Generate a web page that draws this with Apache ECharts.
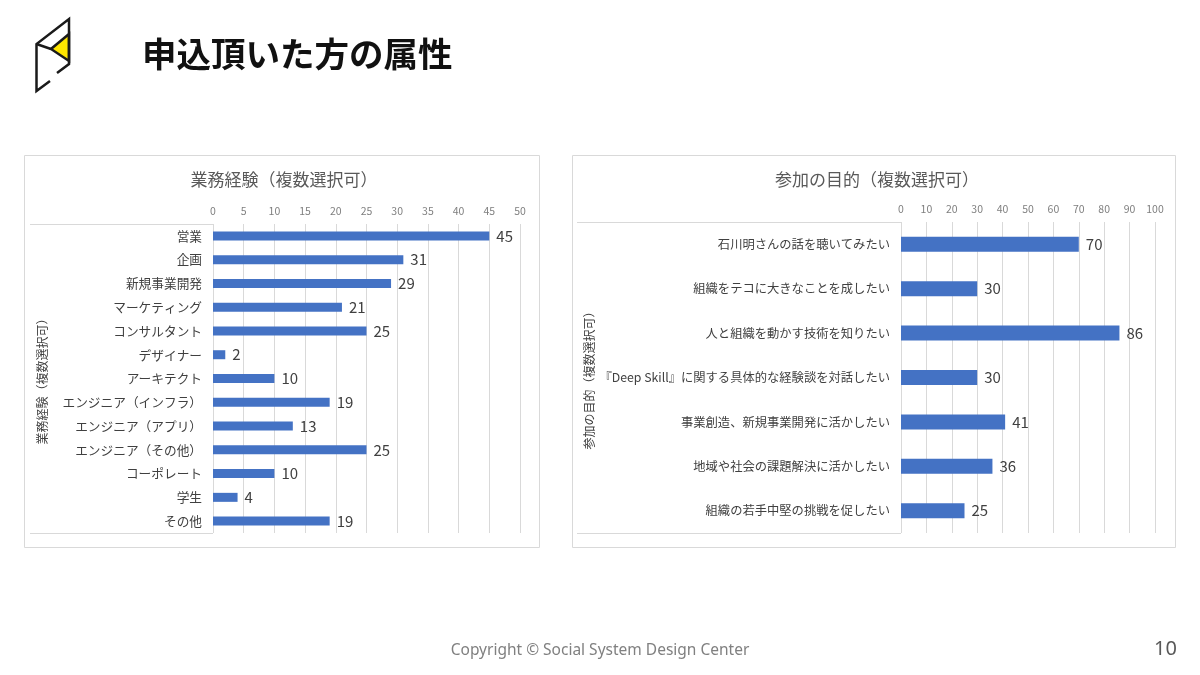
<!DOCTYPE html>
<html>
<head>
<meta charset="utf-8">
<script src="https://cdn.jsdelivr.net/npm/echarts@6/dist/echarts.min.js"></script>
<style>
html,body{margin:0;padding:0;background:#fff;}
#c{width:1200px;height:675px;}
</style>
</head>
<body>
<div id="c"></div>
<script>
// ---- data ----
const pageTitle = '申込頂いた方の属性';
const leftTitle = '業務経験（複数選択可）';
const leftAxisName = '業務経験（複数選択可）';
const leftCategories = ['営業','企画','新規事業開発','マーケティング','コンサルタント','デザイナー','アーキテクト','エンジニア（インフラ）','エンジニア（アプリ）','エンジニア（その他）','コーポレート','学生','その他'];
const leftValues = [45,31,29,21,25,2,10,19,13,25,10,4,19];
const leftMax = 50, leftInterval = 5;

const rightTitle = '参加の目的（複数選択可）';
const rightAxisName = '参加の目的（複数選択可）';
const rightCategories = ['石川明さんの話を聴いてみたい','組織をテコに大きなことを成したい','人と組織を動かす技術を知りたい','『Deep Skill』に関する具体的な経験談を対話したい','事業創造、新規事業開発に活かしたい','地域や社会の課題解決に活かしたい','組織の若手中堅の挑戦を促したい'];
const rightValues = [70,30,86,30,41,36,25];
const rightMax = 100, rightInterval = 10;

const footerText = 'Copyright © Social System Design Center';
const pageNumber = '10';

// ---- chart ----
const FONT = '"Noto Sans CJK JP", "Noto Sans", sans-serif';
const BLUE = '#4472C4';
const chart = echarts.init(document.getElementById('c'));

function xAxisCfg(gridIndex, max, interval){
  return {
    type:'value', gridIndex, position:'top', min:0, max, interval,
    axisLine:{show:false}, axisTick:{show:false},
    axisLabel:{color:'#7f7f7f', fontSize:10.5, margin:8, fontFamily:FONT},
    splitLine:{show:true, lineStyle:{color:'#d9d9d9', width:1}}
  };
}
function yAxisCfg(gridIndex, cats, name, gap, fs){
  return {
    type:'category', gridIndex, data:cats, inverse:true,
    axisLine:{show:false}, axisTick:{show:false},
    axisLabel:{color:'#404040', fontSize:fs, margin:11, fontFamily:FONT},
    name, nameLocation:'middle', nameRotate:90, nameGap:gap,
    nameTextStyle:{color:'#404040', fontSize:12, fontFamily:FONT}
  };
}
function barCfg(idx, values, width){
  return {
    type:'bar', xAxisIndex:idx, yAxisIndex:idx, data:values, barWidth:width,
    itemStyle:{color:BLUE}, silent:true, animation:false,
    label:{show:true, position:'right', distance:7, color:'#404040', fontSize:15, fontFamily:FONT}
  };
}

const option = {
  animation:false,
  textStyle:{fontFamily:FONT},
  title:[
    {text:leftTitle, left:279, top:166, textAlign:'center',
     textStyle:{fontSize:17, fontWeight:'normal', color:'#595959', fontFamily:FONT}},
    {text:rightTitle, left:872, top:166, textAlign:'center',
     textStyle:{fontSize:17, fontWeight:'normal', color:'#595959', fontFamily:FONT}}
  ],
  grid:[
    {left:213, top:224, width:307, height:309, containLabel:false},
    {left:901, top:222, width:254, height:311, containLabel:false}
  ],
  xAxis:[xAxisCfg(0,leftMax,leftInterval), xAxisCfg(1,rightMax,rightInterval)],
  yAxis:[yAxisCfg(0,leftCategories,leftAxisName,165,12.7), yAxisCfg(1,rightCategories,rightAxisName,305,12.3)],
  series:[barCfg(0,leftValues,9), barCfg(1,rightValues,15)],
  graphic:[
    // panel borders
    {type:'rect', shape:{x:24.5,y:155.5,width:515,height:392}, style:{fill:null, stroke:'#d9d9d9', lineWidth:1}, z:-1},
    {type:'rect', shape:{x:572.5,y:155.5,width:603,height:392}, style:{fill:null, stroke:'#d9d9d9', lineWidth:1}, z:-1},
    // label boxes
    {type:'polyline', shape:{points:[[30,224.5],[213,224.5]]}, style:{stroke:'#d9d9d9', lineWidth:1, fill:null}},
    {type:'polyline', shape:{points:[[30,533.5],[213,533.5]]}, style:{stroke:'#d9d9d9', lineWidth:1, fill:null}},
    {type:'polyline', shape:{points:[[577,222.5],[901,222.5]]}, style:{stroke:'#d9d9d9', lineWidth:1, fill:null}},
    {type:'polyline', shape:{points:[[577,533.5],[901,533.5]]}, style:{stroke:'#d9d9d9', lineWidth:1, fill:null}},
    // logo
    {type:'polygon', shape:{points:[[69,34],[51,49],[69,61]]}, style:{fill:'#FFE600', stroke:'#1a1a1a', lineWidth:2.5, lineJoin:'miter'}},
    {type:'polyline', shape:{points:[[36.5,44],[51,49]]}, style:{stroke:'#1a1a1a', lineWidth:2.5, fill:null}},
    {type:'polyline', shape:{points:[[50,81],[36.5,91],[36.5,44],[69,19],[69,64],[57,73]]}, style:{stroke:'#1a1a1a', lineWidth:2.5, fill:null, lineJoin:'miter'}},
    // page title
    {type:'text', left:142, top:37, style:{text:pageTitle, fill:'#111', fontSize:34.5, fontWeight:'bold', fontFamily:FONT}},
    // footer
    {type:'text', style:{x:600, y:651, text:footerText, fill:'#808080', fontSize:15.5, fontFamily:'"Noto Sans", sans-serif', textAlign:'center', textVerticalAlign:'middle'}},
    {type:'text', left:1154, top:639, style:{text:pageNumber, fill:'#595959', fontSize:20, fontFamily:'"Noto Sans", sans-serif'}}
  ]
};
chart.setOption(option);
</script>
</body>
</html>
